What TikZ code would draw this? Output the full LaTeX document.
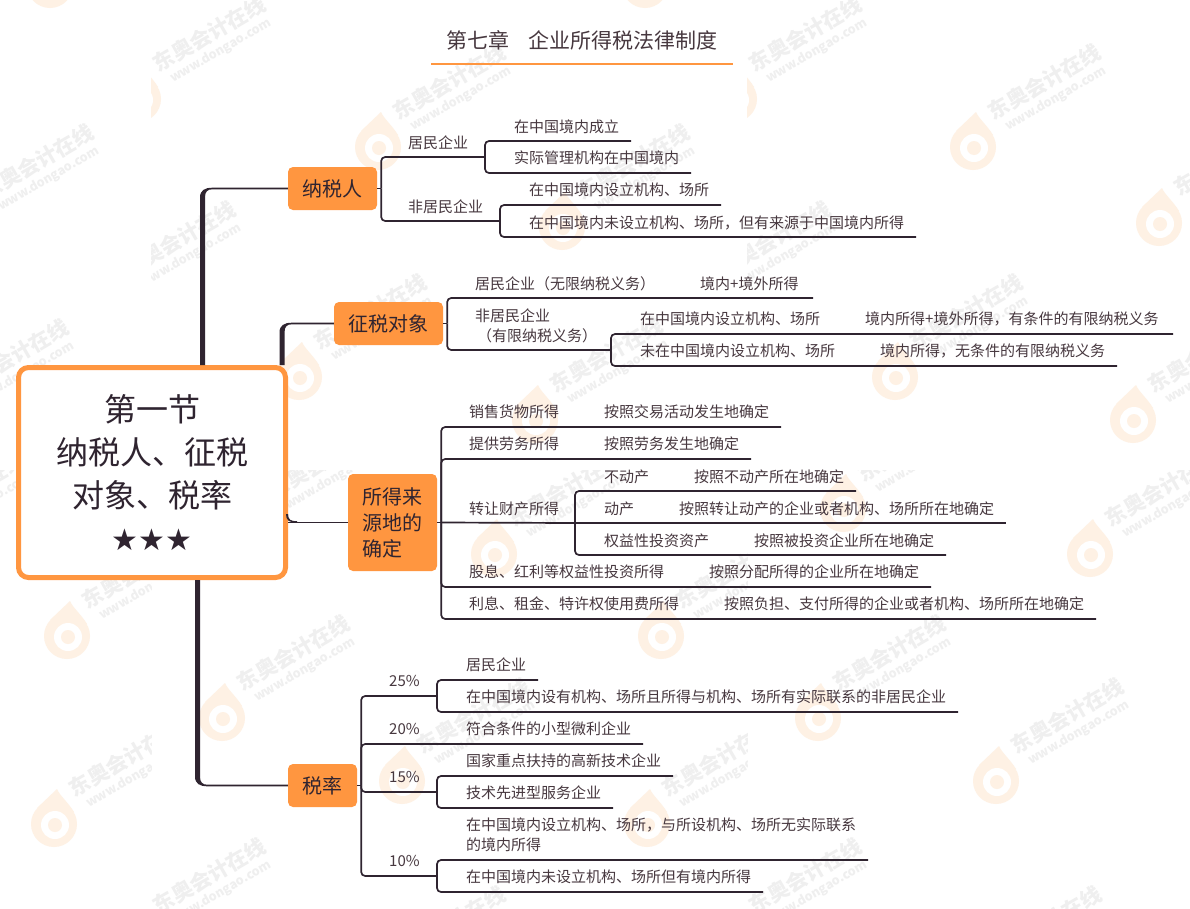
\documentclass[tikz,border=0pt]{standalone}
\usepackage{fontspec}
\usetikzlibrary{calc}
\newfontfamily\cjk{Noto Sans CJK SC}
\newfontfamily\symf{DejaVu Sans}
\definecolor{orangeB}{HTML}{FF9640}
\definecolor{inkc}{HTML}{2F2430}
\definecolor{txtc}{HTML}{47383F}
\definecolor{wmtxt}{HTML}{EFEFEF}
\definecolor{wmlogo}{HTML}{FEF1E4}
\newcount\wmcount
% watermark: text centre (#1,#2), clip box (#3,#4)-(#5,#6)
\newcommand\wmk[6]{%
  \global\advance\wmcount by 1
  \begin{scope}
    \clip (#3,#4) rectangle (#5,#6);
    \begin{scope}[shift={(#1,#2)}]
      \node[wmcn] (wmc\the\wmcount) at (-4.5,-8) {东奥会计在线};
      \node[wmen] (wme\the\wmcount) at (7,9) {www.dongao.com};
      \begin{scope}[shift={(-76,57)}]
        \fill[wmlogo] (-17,-16) -- (3,-35) .. controls (6,-28) and (14,-22) .. (20,-12) -- cycle;
        \fill[wmlogo] (0,0) circle[radius=23];
        \fill[white] (1,1) circle[radius=14];
        \fill[wmlogo] (1,1) circle[radius=7];
      \end{scope}
    \end{scope}
  \end{scope}}
% tapered main branch: #1 start coordinate on the root, #2 target node, #3 half width
\newcommand\taperup[2]{%
  \coordinate (cc) at (#2.west -| #1);
  \fill[inkc] ($(#1)+(-2.5,0)$) -- ($(cc)+(-2.5,9)$) .. controls ($(cc)+(-2.5,2)$) and ($(cc)+(2,-0.8)$) .. ($(cc)+(10,-0.8)$)
    -- ($(#2.west)+(0,-0.8)$) -- ($(#2.west)+(0,0.8)$) -- ($(cc)+(10,0.8)$)
    .. controls ($(cc)+(5,0.8)$) and ($(cc)+(2.5,3)$) .. ($(cc)+(2.5,9)$) -- ($(#1)+(2.5,0)$) -- cycle;}
\newcommand\taperdown[2]{%
  \coordinate (cc) at (#2.west -| #1);
  \fill[inkc] ($(#1)+(-2.5,0)$) -- ($(cc)+(-2.5,-9)$) .. controls ($(cc)+(-2.5,-2)$) and ($(cc)+(2,0.8)$) .. ($(cc)+(10,0.8)$)
    -- ($(#2.west)+(0,0.8)$) -- ($(#2.west)+(0,-0.8)$) -- ($(cc)+(10,-0.8)$)
    .. controls ($(cc)+(5,-0.8)$) and ($(cc)+(2.5,-3)$) .. ($(cc)+(2.5,-9)$) -- ($(#1)+(2.5,0)$) -- cycle;}
\tikzset{
  wmcn/.style={rotate=30,inner sep=0,text=wmtxt,font=\cjk\bfseries\fontsize{21}{21}\selectfont},
  wmen/.style={rotate=30,inner sep=0,text=wmtxt,font=\cjk\bfseries\fontsize{12.5}{13}\selectfont},
  topic/.style={fill=orangeB,rounded corners=5pt,inner sep=0,text=inkc,font=\cjk\fontsize{20}{26}\selectfont},
  leaf/.style={anchor=west,inner sep=0,text height=13pt,text depth=2pt,text=txtc,font=\cjk\fontsize{15}{20}\selectfont},
  ln/.style={draw=inkc,line width=1.7pt,rounded corners=4pt},
}
\begin{document}
\begin{tikzpicture}[x=1pt,y=-1pt]
\useasboundingbox (0,0) rectangle (1190,908);
\fill[white] (0,0) rectangle (1190,908);
% ---------- watermarks
\begin{scope}
\clip (0,0) rectangle (1190,908);
\wmk{126}{-72}{0}{0}{151}{100}
\wmk{721}{-72}{596}{0}{747}{100}
\wmk{214}{42}{151}{0}{747}{150}
\wmk{810}{42}{747}{0}{1343}{150}
\wmk{454}{90}{151}{0}{747}{300}
\wmk{1049}{90}{747}{0}{1343}{300}
\wmk{42}{170}{0}{0}{151}{300}
\wmk{638}{170}{151}{0}{747}{300}
\wmk{1235}{166}{747}{0}{1343}{300}
\wmk{184}{247}{151}{150}{747}{470}
\wmk{779}{247}{747}{150}{1343}{470}
\wmk{375}{320}{151}{150}{747}{470}
\wmk{971}{320}{747}{150}{1343}{470}
\wmk{17}{365}{0}{150}{151}{470}
\wmk{611}{363}{151}{150}{747}{470}
\wmk{1209}{363}{747}{150}{1343}{470}
\wmk{329}{469}{151}{470}{747}{908}
\wmk{919}{452}{747}{470}{1343}{908}
\wmk{143}{579}{0}{470}{151}{908}
\wmk{737}{579}{151}{470}{747}{908}
\wmk{-26}{497}{0}{470}{151}{908}
\wmk{570}{497}{151}{470}{747}{908}
\wmk{1166}{497}{747}{470}{1343}{908}
\wmk{298}{661}{151}{470}{747}{908}
\wmk{894}{661}{747}{470}{1343}{908}
\wmk{478}{724}{151}{470}{747}{908}
\wmk{1072}{724}{747}{470}{1343}{908}
\wmk{130}{767}{0}{470}{151}{908}
\wmk{723}{767}{151}{470}{747}{908}
\wmk{214}{884}{151}{470}{747}{908}
\wmk{810}{884}{747}{470}{1343}{908}
\wmk{454}{932}{151}{470}{747}{908}
\wmk{1050}{932}{747}{470}{1343}{908}
\end{scope}
% ---------- title
\node[anchor=west,inner sep=0,text=txtc,font=\cjk\fontsize{21}{24}\selectfont] (title) at (446,40) {第七章\hspace{19pt}企业所得税法律制度};
\coordinate (tl) at (431,64);
\coordinate (tr) at (733,64);
\draw[orangeB,line width=2.6pt] (tl) -- (tr);
% ---------- root and topics
\node[draw=orangeB,line width=5pt,fill=white,rounded corners=10pt,minimum width=267pt,minimum height=210pt,inner sep=0,align=center,text=inkc,font=\cjk\fontsize{32}{43}\selectfont] (root) at (152,472.5)
  {第一节\\纳税人、征税\\对象、税率\\{\symf\fontsize{30}{43}\selectfont ★★★}};
\node[topic,minimum width=89pt,minimum height=43pt] (nsr) at (332.5,188.5) {纳税人};
\node[topic,minimum width=109pt,minimum height=43pt] (zs) at (388.5,323.5) {征税对象};
\node[topic,minimum width=89pt,minimum height=97pt,align=left] (sd) at (392.5,522.5) {所得来\\源地的\\确定};
\node[topic,minimum width=69pt,minimum height=43pt] (sl) at (322.5,785.5) {税率};
% ---------- main branches
\coordinate (m1) at ([xshift=50.5pt]root.north);
\coordinate (m2) at ([xshift=130pt]root.north);
\coordinate (m4) at ([xshift=45.5pt]root.south);
\taperup{m1}{nsr}
\taperup{m2}{zs}
\taperdown{m4}{sl}
\coordinate (m3) at (root.east |- sd.west);
\draw[inkc,line width=1.6pt] (m3) -- (sd.west);
\fill[inkc] (288,514) .. controls (288,520) and (291,521.2) .. (297,521.2) -- (297,522.8) .. controls (289,522.8) and (286,520) .. (286,514) -- cycle;
% ---------- 纳税人
\coordinate (b1) at ([xshift=4pt]nsr.east);
\draw[ln] (nsr.east) -- (b1);
\node[leaf] (a1) at (408,143) {居民企业};
\node[leaf] (a2) at (408,207) {非居民企业};
\coordinate (a1e) at (485,157);
\coordinate (a2e) at (500,221);
\draw[ln] (b1) |- (a1e);
\draw[ln] (b1) |- (a2e);
\node[leaf] (a11) at (514,127) {在中国境内成立};
\node[leaf] (a12) at (514,158) {实际管理机构在中国境内};
\node[leaf] (a21) at (529,190) {在中国境内设立机构、场所};
\node[leaf] (a22) at (529,223) {在中国境内未设立机构、场所，但有来源于中国境内所得};
\coordinate (a11e) at (631,141);
\coordinate (a12e) at (691,173);
\coordinate (a21e) at (721,205);
\coordinate (a22e) at (916,237);
\draw[ln] (a1e) |- (a11e);
\draw[ln] (a1e) |- (a12e);
\draw[ln] (a2e) |- (a21e);
\draw[ln] (a2e) |- (a22e);
% ---------- 征税对象
\coordinate (b2) at ([xshift=4pt]zs.east);
\draw[ln] (zs.east) -- (b2);
\node[leaf] (c1) at (475,284) {居民企业（无限纳税义务）};
\node[leaf] (c1b) at (700,284) {境内+境外所得};
\node[leaf] (c2) at (475,316) {非居民企业};
\node[leaf] (c2b) at (477,336) {（有限纳税义务）};
\coordinate (c1e) at (813,298);
\coordinate (c2e) at (611,350);
\draw[ln] (b2) |- (c1e);
\draw[ln] (b2) |- (c2e);
\node[leaf] (c21) at (640,319) {在中国境内设立机构、场所};
\node[leaf] (c21b) at (865,319) {境内所得+境外所得，有条件的有限纳税义务};
\node[leaf] (c22) at (640,351) {未在中国境内设立机构、场所};
\node[leaf] (c22b) at (880,351) {境内所得，无条件的有限纳税义务};
\coordinate (c21e) at (1173,334);
\coordinate (c22e) at (1117,366);
\draw[ln] (c2e) |- (c21e);
\draw[ln] (c2e) |- (c22e);
% ---------- 所得来源地的确定
\coordinate (b3) at ([xshift=4pt]sd.east);
\draw[ln] (sd.east) -- (b3);
\node[leaf] (d1) at (469,412) {销售货物所得};
\node[leaf] (d1b) at (604,412) {按照交易活动发生地确定};
\node[leaf] (d2) at (469,444) {提供劳务所得};
\node[leaf] (d2b) at (604,444) {按照劳务发生地确定};
\node[leaf] (d3) at (469,509) {转让财产所得};
\node[leaf] (d4) at (469,572) {股息、红利等权益性投资所得};
\node[leaf] (d4b) at (709,572) {按照分配所得的企业所在地确定};
\node[leaf] (d5) at (469,604) {利息、租金、特许权使用费所得};
\node[leaf] (d5b) at (724,604) {按照负担、支付所得的企业或者机构、场所所在地确定};
\coordinate (d1e) at (781,427);
\coordinate (d2e) at (751,459);
\coordinate (d3e) at (575,523);
\coordinate (d4e) at (931,587);
\coordinate (d5e) at (1096,619);
\draw[ln] (b3) |- (d1e);
\draw[ln] (b3) |- (d2e);
\draw[ln] (b3) -- (d3e);
\draw[ln] (b3) |- (d4e);
\draw[ln] (b3) |- (d5e);
\node[leaf] (d31) at (604,477) {不动产};
\node[leaf] (d31b) at (694,477) {按照不动产所在地确定};
\node[leaf] (d32) at (604,509) {动产};
\node[leaf] (d32b) at (679,509) {按照转让动产的企业或者机构、场所所在地确定};
\node[leaf] (d33) at (604,541) {权益性投资资产};
\node[leaf] (d33b) at (754,541) {按照被投资企业所在地确定};
\coordinate (d31e) at (856,491);
\coordinate (d32e) at (1006,523);
\coordinate (d33e) at (946,555);
\draw[ln] (d3e) |- (d31e);
\draw[ln] (d3e) -- (d32e);
\draw[ln] (d3e) |- (d33e);
% ---------- 税率
\coordinate (b4) at ([xshift=4pt]sl.east);
\draw[ln] (sl.east) -- (b4);
\node[leaf] (e1) at (389,681) {25\%};
\node[leaf] (e2) at (389,729) {20\%};
\node[leaf] (e3) at (389,777) {15\%};
\node[leaf] (e4) at (389,861) {10\%};
\coordinate (e1e) at (437,696);
\coordinate (e2e) at (643,744);
\coordinate (e3e) at (437,792);
\coordinate (e4e) at (437,876);
\draw[ln] (b4) |- (e1e);
\draw[ln] (b4) |- (e2e);
\draw[ln] (b4) |- (e3e);
\draw[ln] (b4) |- (e4e);
\node[leaf] (e11) at (466,665) {居民企业};
\node[leaf] (e12) at (466,697) {在中国境内设有机构、场所且所得与机构、场所有实际联系的非居民企业};
\node[leaf] (e21) at (466,729) {符合条件的小型微利企业};
\node[leaf] (e31) at (466,761) {国家重点扶持的高新技术企业};
\node[leaf] (e32) at (466,793) {技术先进型服务企业};
\node[leaf] (e41) at (466,825) {在中国境内设立机构、场所，与所设机构、场所无实际联系};
\node[leaf] (e41b) at (466,845) {的境内所得};
\node[leaf] (e42) at (466,877) {在中国境内未设立机构、场所但有境内所得};
\coordinate (e11e) at (538,680);
\coordinate (e12e) at (958,712);
\coordinate (e31e) at (673,776);
\coordinate (e32e) at (613,808);
\coordinate (e41e) at (868,860);
\coordinate (e42e) at (763,892);
\draw[ln] (e1e) |- (e11e);
\draw[ln] (e1e) |- (e12e);
\draw[ln] (e3e) |- (e31e);
\draw[ln] (e3e) |- (e32e);
\draw[ln] (e4e) |- (e41e);
\draw[ln] (e4e) |- (e42e);
\end{tikzpicture}
\end{document}
